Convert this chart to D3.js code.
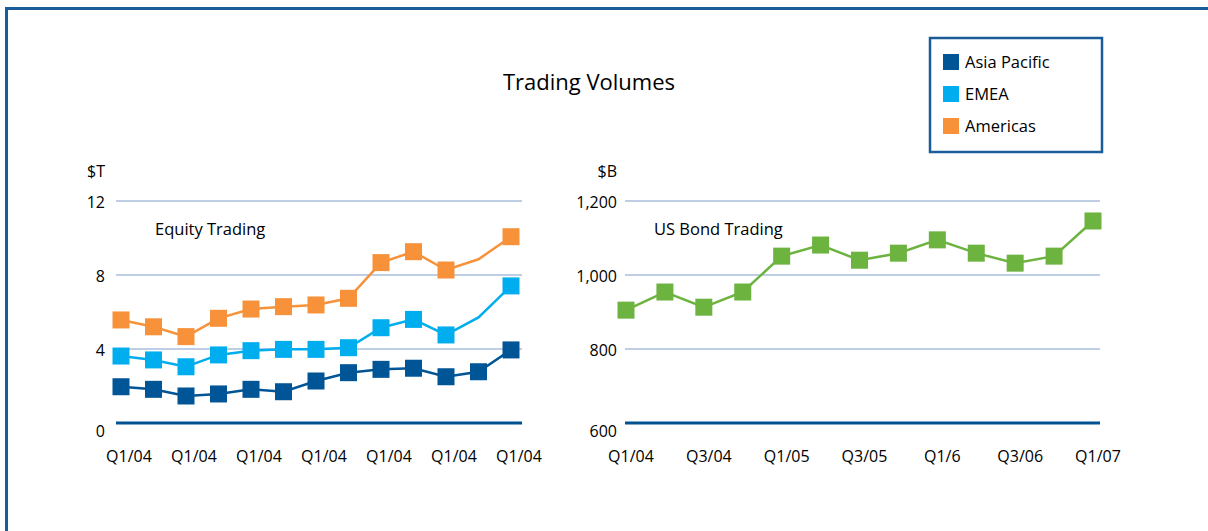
<!DOCTYPE html>
<html>
<head>
<meta charset="utf-8">
<script src="https://cdn.jsdelivr.net/npm/d3@7"></script>
<style>
  body { margin: 0; background: #fff; }
  svg { display: block; font-family: "Open Sans", sans-serif; }
</style>
</head>
<body>
<div class="chart"></div>
<script>
// equity trading, $T, 13 quarters
const equityQuarters = d3.range(13);
const equityTicks = ["Q1/04", "Q1/04", "Q1/04", "Q1/04", "Q1/04", "Q1/04", "Q1/04"];
const asiaPacific = [1.96, 1.82, 1.46, 1.57, 1.82, 1.69, 2.27, 2.72, 2.9, 2.96, 2.5, 2.77, 3.95];
const emea = [3.62, 3.41, 3.04, 3.68, 3.91, 3.98, 3.98, 4.07, 5.15, 5.6, 4.76, 5.71, 7.41];
const americas = [5.57, 5.2, 4.67, 5.66, 6.16, 6.29, 6.38, 6.74, 8.67, 9.26, 8.27, 8.85, 10.07];
// points without a marker (line vertex only)
const emeaNoMark = [11];
const americasNoMark = [11];

// US bond trading, $B
const bondQuarters = d3.range(13);
const bondTicks = ["Q1/04", "Q3/04", "Q1/05", "Q3/05", "Q1/6", "Q3/06", "Q1/07"];
const bondValues = [905, 954, 913, 954, 1051, 1081, 1040, 1059, 1095, 1059, 1032, 1051, 1146];

const seriesNames = ["Asia Pacific", "EMEA", "Americas"];
const colors = ["#005596", "#00aeef", "#f7923a"];
const green = "#6cb33f";
const navy = "#1a5c99";

const W = 1208, H = 531;
const svg = d3.select(".chart").append("svg").attr("width", W).attr("height", H);

// outer frame (runs off the right and bottom edges)
svg.append("rect")
  .attr("x", 6.5).attr("y", 8.5)
  .attr("width", W + 20).attr("height", H + 20)
  .attr("fill", "none").attr("stroke", navy).attr("stroke-width", 3);

svg.append("text")
  .attr("x", 589).attr("y", 90)
  .attr("text-anchor", "middle")
  .style("font-size", "22px").attr("fill", "#000")
  .text("Trading Volumes");

// legend
const legend = svg.append("g").attr("transform", "translate(930,38)");
legend.append("rect")
  .attr("width", 172).attr("height", 114)
  .attr("fill", "#fff").attr("stroke", navy).attr("stroke-width", 2.5);
const legendG = legend.selectAll(".legend")
  .data(seriesNames)
  .enter()
  .append("g")
  .attr("class", "legend")
  .attr("transform", (d, i) => "translate(13," + (16 + i * 32) + ")");
legendG.append("rect")
  .attr("width", 16).attr("height", 16)
  .attr("fill", (d, i) => colors[i]);
legendG.append("text")
  .attr("x", 22).attr("y", 14)
  .style("font-size", "16.5px").attr("fill", "#000")
  .text(d => d);

function panel(opts) {
  const g = svg.append("g");
  const x = d3.scalePoint().domain(opts.quarters).range(opts.xRange);
  const y = d3.scaleLinear().domain(opts.yDomain).range([423, 201]);

  // gridlines
  g.selectAll(".grid")
    .data(opts.gridValues.slice(1))
    .enter()
    .append("line")
    .attr("x1", opts.gridX[0]).attr("x2", opts.gridX[1])
    .attr("y1", d => y(d)).attr("y2", d => y(d))
    .attr("stroke", "#a9bfdd").attr("stroke-width", 1.5);
  g.append("line")
    .attr("x1", opts.gridX[0]).attr("x2", opts.gridX[1])
    .attr("y1", y(opts.yDomain[0])).attr("y2", y(opts.yDomain[0]))
    .attr("stroke", "#00518f").attr("stroke-width", 3);

  // y tick labels
  g.selectAll(".ytick")
    .data(opts.gridValues)
    .enter()
    .append("text")
    .attr("x", opts.yLabelX)
    .attr("y", (d, i) => y(d) + (i === 0 ? 14 : 7))
    .attr("text-anchor", "end")
    .style("font-size", "16px").attr("fill", "#000")
    .text(d => d3.format(",")(d));

  g.append("text")
    .attr("x", opts.yLabelX).attr("y", 177)
    .attr("text-anchor", "end")
    .style("font-size", "16px").attr("fill", "#000")
    .text(opts.unit);

  g.append("text")
    .attr("x", opts.titleX).attr("y", 235)
    .style("font-size", "16.5px").attr("fill", "#000")
    .text(opts.title);

  // x tick labels, every second quarter
  g.selectAll(".xtick")
    .data(opts.ticks)
    .enter()
    .append("text")
    .attr("x", (d, i) => x(i * 2) + opts.tickShift)
    .attr("y", 462)
    .attr("text-anchor", "middle")
    .style("font-size", "16px").attr("fill", "#000")
    .text(d => d);

  const line = d3.line().x((d, i) => x(i)).y(d => y(d));
  opts.series.forEach(s => {
    g.append("path")
      .attr("d", line(s.values))
      .attr("fill", "none").attr("stroke", s.color).attr("stroke-width", 2.5);
    g.selectAll(null)
      .data(s.values.map((v, i) => ({ v, i })).filter(d => s.noMark.indexOf(d.i) < 0))
      .enter()
      .append("rect")
      .attr("x", d => x(d.i) - 8.5).attr("y", d => y(d.v) - 8.5)
      .attr("width", 17).attr("height", 17)
      .attr("fill", s.color);
  });
}

panel({
  quarters: equityQuarters,
  xRange: [121, 511],
  yDomain: [0, 12],
  gridValues: [0, 4, 8, 12],
  gridX: [116, 522],
  yLabelX: 105,
  unit: "$T",
  title: "Equity Trading",
  titleX: 155,
  ticks: equityTicks,
  tickShift: 8,
  series: [
    { values: asiaPacific, color: colors[0], noMark: [] },
    { values: emea, color: colors[1], noMark: emeaNoMark },
    { values: americas, color: colors[2], noMark: americasNoMark }
  ]
});

panel({
  quarters: bondQuarters,
  xRange: [626, 1093],
  yDomain: [600, 1200],
  gridValues: [600, 800, 1000, 1200],
  gridX: [625, 1100],
  yLabelX: 617,
  unit: "$B",
  title: "US Bond Trading",
  titleX: 654,
  ticks: bondTicks,
  tickShift: 5,
  series: [
    { values: bondValues, color: green, noMark: [] }
  ]
});
</script>
</body>
</html>
